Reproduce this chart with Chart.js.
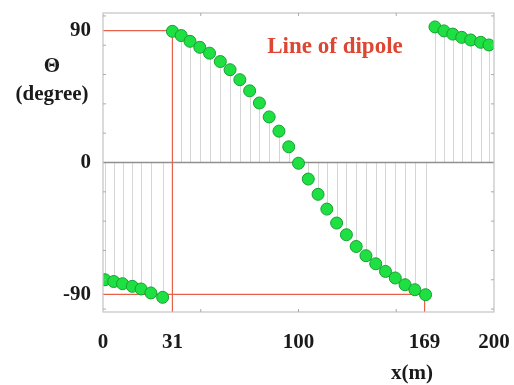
<!DOCTYPE html>
<html>
<head>
<meta charset="utf-8">
<script src="https://cdn.jsdelivr.net/npm/chart.js@4.4.1/dist/chart.umd.min.js"></script>
<style>
  html, body { margin: 0; padding: 0; background: #fff; }
</style>
</head>
<body>
<canvas id="chart" width="514" height="385"></canvas>
<script>
// dipole angle readings, three runs of points
const leftX  = [1, 5.5, 10, 15, 19.5, 24.5, 30.5];
const leftY  = [-80, -81.2, -82.7, -84.5, -86.3, -89, -92];
const midX   = [35.5, 40, 44.5, 49.5, 54.5, 60, 65, 70, 75, 80, 85, 90, 95, 100,
                105, 110, 114.5, 119.5, 124.5, 129.5, 134.5, 139.5, 144.5, 149.5, 154.5, 159.5, 165];
const midY   = [89.5, 86.6, 82.7, 78.6, 74.6, 68.9, 63.3, 56.5, 48.9, 40.6, 31.1, 21.4, 10.7, -0.5,
                -11.3, -21.7, -31.8, -41.3, -49.3, -57.3, -63.6, -69.1, -74.3, -78.8, -83.4, -86.8, -90.2];
const rightX = [169.8, 174.4, 178.9, 183.5, 188.1, 193.2, 197.4];
const rightY = [92.5, 89.8, 87.6, 85.4, 83.6, 82, 80.2];

// red "line of dipole" guides
const dipoleStart = 35.5, dipoleEnd = 164.5;
const guideLeft  = [{x: 0, y: 90},  {x: dipoleStart, y: 90},  {x: dipoleStart, y: -102}];
const guideRight = [{x: 0, y: -90}, {x: dipoleEnd, y: -90},   {x: dipoleEnd, y: -102}];

// axes
const xTickValues = [0, dipoleStart, 100, dipoleEnd, 200];
const xTickLabels = ['0', '31', '100', '169', '200'];
const yTickValues = [-90, 0, 90];
const yTickLabels = ['-90', '0', '90'];
const xMinorTicks = [50, 100, 150];
const yMinorTicks = [-100, -80, -60, -40, -20, 20, 40, 60, 80, 100];

const serif = '"Liberation Serif", "Times New Roman", serif';
const pts = (xs, ys) => xs.map((x, i) => ({x: x, y: ys[i]}));

const dotStyle = {
  type: 'scatter',
  backgroundColor: '#1fe043',
  borderColor: '#15a030',
  borderWidth: 1,
  pointRadius: 6,
  pointHoverRadius: 6,
  clip: 0,
  stem: true
};
const guideStyle = {
  type: 'line',
  borderColor: '#e8604a',
  borderWidth: 1.2,
  pointRadius: 0,
  tension: 0,
  fill: false,
  clip: 0
};

const framePlugin = {
  id: 'frame',
  beforeDatasetsDraw(chart) {
    const {ctx, chartArea: a, scales: {x, y}} = chart;
    ctx.save();
    ctx.beginPath();
    ctx.rect(a.left, a.top, a.right - a.left, a.bottom - a.top);
    ctx.clip();
    // stems from zero to every dot
    ctx.strokeStyle = '#d6d6d6';
    ctx.lineWidth = 1;
    const y0 = y.getPixelForValue(0);
    chart.data.datasets.forEach((ds, i) => {
      if (!ds.stem) return;
      chart.getDatasetMeta(i).data.forEach(p => {
        ctx.beginPath();
        ctx.moveTo(Math.round(p.x) + 0.5, y0);
        ctx.lineTo(Math.round(p.x) + 0.5, p.y);
        ctx.stroke();
      });
    });
    // zero line
    ctx.strokeStyle = '#8f8f8f';
    ctx.lineWidth = 1.5;
    ctx.beginPath();
    ctx.moveTo(a.left, y0);
    ctx.lineTo(a.right, y0);
    ctx.stroke();
    ctx.restore();
  },
  afterDraw(chart) {
    const {ctx, chartArea: a, scales: {x, y}} = chart;
    ctx.save();
    ctx.strokeStyle = '#c4c4c4';
    ctx.lineWidth = 1.2;
    ctx.strokeRect(a.left, a.top, a.right - a.left, a.bottom - a.top);
    ctx.strokeStyle = '#aaaaaa';
    ctx.lineWidth = 1;
    ctx.beginPath();
    xMinorTicks.forEach(v => {
      const px = x.getPixelForValue(v);
      ctx.moveTo(px, a.top); ctx.lineTo(px, a.top + 3);
      ctx.moveTo(px, a.bottom); ctx.lineTo(px, a.bottom - 3);
    });
    yMinorTicks.forEach(v => {
      const py = y.getPixelForValue(v);
      ctx.moveTo(a.left, py); ctx.lineTo(a.left + 3, py);
      ctx.moveTo(a.right, py); ctx.lineTo(a.right - 3, py);
    });
    ctx.stroke();

    ctx.textAlign = 'center';
    ctx.textBaseline = 'middle';
    ctx.fillStyle = '#1a1a1a';
    ctx.font = 'bold 21px ' + serif;
    ctx.fillText('\u0398', 52, 67);
    ctx.fillText('(degree)', 52, 95);
    ctx.fillText('x(m)', 412, 374);
    ctx.fillStyle = '#dc4632';
    ctx.font = 'bold 23px ' + serif;
    ctx.fillText('Line of dipole', 335, 47);
    ctx.restore();
  }
};

new Chart(document.getElementById('chart'), {
  data: {
    datasets: [
      Object.assign({data: pts(leftX, leftY)}, dotStyle),
      Object.assign({data: pts(midX, midY)}, dotStyle),
      Object.assign({data: pts(rightX, rightY)}, dotStyle),
      Object.assign({data: guideLeft}, guideStyle),
      Object.assign({data: guideRight}, guideStyle)
    ]
  },
  plugins: [framePlugin],
  options: {
    responsive: false,
    animation: false,
    layout: {padding: {left: 0, right: 20, top: 13, bottom: 0}},
    plugins: {legend: {display: false}, tooltip: {enabled: false}},
    scales: {
      x: {
        type: 'linear',
        min: 0, max: 200,
        afterFit: s => { s.height = 73; s.paddingLeft = 0; s.paddingRight = 0; },
        afterBuildTicks: s => { s.ticks = xTickValues.map(v => ({value: v})); },
        grid: {display: false, drawTicks: false},
        border: {display: false},
        ticks: {
          padding: 18,
          color: '#1a1a1a',
          font: {family: serif, size: 21, weight: 'bold'},
          maxRotation: 0,
          autoSkip: false,
          callback: (v, i) => xTickLabels[i]
        }
      },
      y: {
        type: 'linear',
        min: -102, max: 102,
        afterFit: s => { s.width = 103; s.paddingTop = 0; s.paddingBottom = 0; },
        afterBuildTicks: s => { s.ticks = yTickValues.map(v => ({value: v})); },
        grid: {display: false, drawTicks: false},
        border: {display: false},
        ticks: {
          padding: 12,
          color: '#1a1a1a',
          font: {family: serif, size: 21, weight: 'bold'},
          autoSkip: false,
          callback: (v, i) => yTickLabels[i]
        }
      }
    }
  }
});
</script>
</body>
</html>
